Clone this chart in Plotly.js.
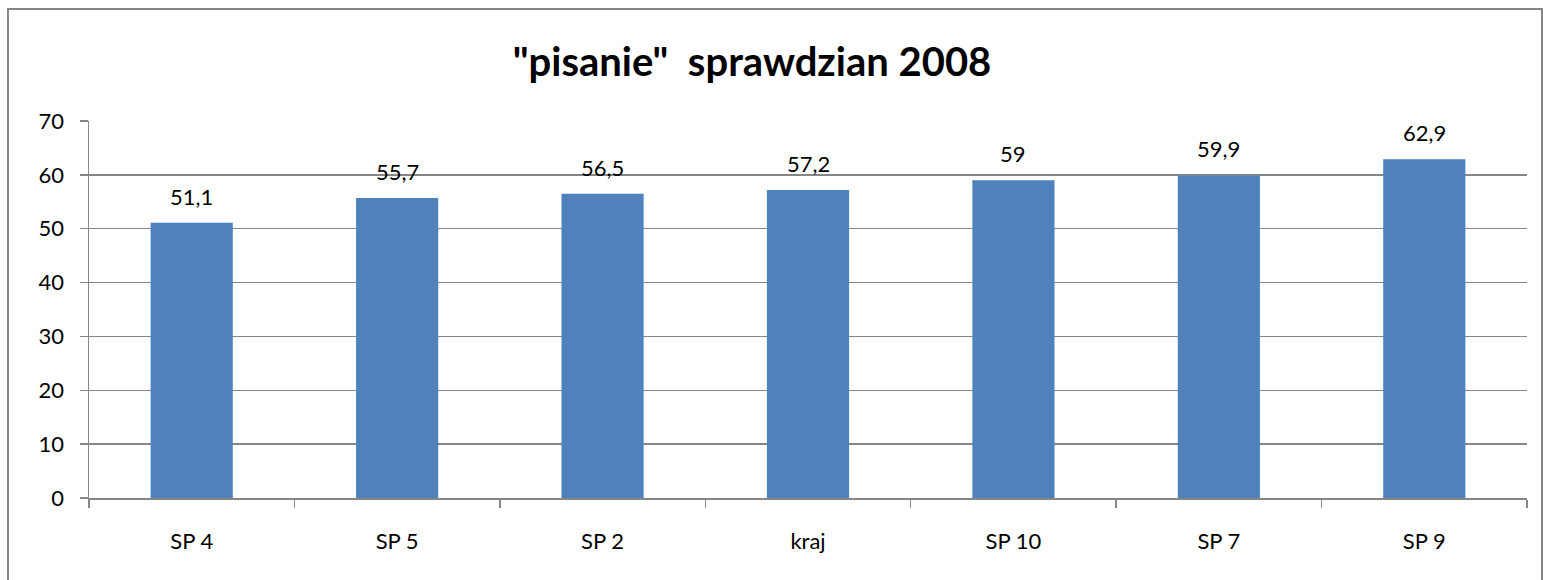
<!DOCTYPE html>
<html>
<head>
<meta charset="utf-8">
<script src="https://cdn.plot.ly/plotly-3.0.1.min.js"></script>
<style>html,body{margin:0;padding:0;background:#fff;}#chart{width:1543px;height:580px;}</style>
</head>
<body>
<div id="chart"></div>
<script>
const categories = ["SP 4", "SP 5", "SP 2", "kraj", "SP 10", "SP 7", "SP 9"];
const values = [51.1, 55.7, 56.5, 57.2, 59, 59.9, 62.9];
const yTicks = [0, 10, 20, 30, 40, 50, 60, 70];
const labels = values.map(v => String(v).replace('.', ','));

const FONT = "Lato, 'Open Sans', sans-serif";
const GRAY = "#868686";

const trace = {
  type: "bar",
  x: categories,
  y: values,
  marker: {color: "#4F81BD"},
  hoverinfo: "skip"
};

const annotations = categories.map((c, i) => ({
  x: c, y: values[i], xref: "x", yref: "y",
  text: labels[i], showarrow: false,
  yanchor: "bottom", yshift: 11,
  font: {family: FONT, size: 22, color: "#000"}
}));

const layout = {
  width: 1543, height: 580,
  margin: {l: 89, r: 16, t: 121, b: 82},
  paper_bgcolor: "#fff", plot_bgcolor: "#fff",
  showlegend: false,
  bargap: 0.6,
  title: {
    text: "<b>\"pisanie\"  sprawdzian 2008</b>",
    font: {family: FONT, size: 40, color: "#000"},
    xref: "container", yref: "container",
    x: 752/1543, xanchor: "center",
    y: 1 - 62/580, yanchor: "middle"
  },
  xaxis: {
    type: "category",
    showline: true, linecolor: GRAY, linewidth: 1.5,
    ticks: "outside", tickson: "boundaries", ticklen: 8, tickcolor: GRAY, tickwidth: 1.5,
    showgrid: false, zeroline: false,
    tickfont: {family: FONT, size: 22, color: "#000"},
    ticklabelstandoff: 23,
    fixedrange: true
  },
  yaxis: {
    range: [0, 70],
    tickvals: yTicks,
    showline: true, linecolor: GRAY, linewidth: 1.5,
    ticks: "outside", ticklen: 8, tickcolor: GRAY, tickwidth: 1.5,
    showgrid: true, gridcolor: GRAY, gridwidth: 1.5,
    zeroline: false,
    tickfont: {family: FONT, size: 22, color: "#000"},
    ticklabelstandoff: 11,
    fixedrange: true
  },
  annotations: annotations,
  shapes: [{
    type: "rect", xref: "paper", yref: "paper",
    x0: (8 - 89) / 1438, x1: (1542 - 89) / 1438,
    y0: (498 - 600) / 377, y1: (498 - 9) / 377,
    line: {color: GRAY, width: 2}, fillcolor: "rgba(0,0,0,0)",
    layer: "below"
  }]
};

Plotly.newPlot("chart", [trace], layout, {displayModeBar: false, staticPlot: true});
</script>
</body>
</html>
